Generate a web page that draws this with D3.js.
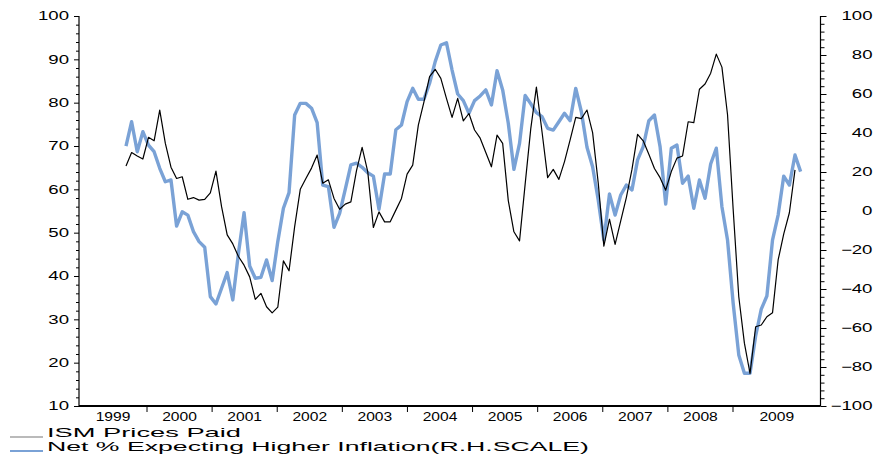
<!DOCTYPE html>
<html><head><meta charset="utf-8">
<script src="https://cdn.jsdelivr.net/npm/d3@7/dist/d3.min.js"></script>
<style>
body{margin:0;background:#fff;}
svg text{font-family:"Liberation Sans",Arial,Helvetica,sans-serif;fill:#000;}
</style>
</head><body>
<svg id="chart" width="885" height="455"></svg>
<script>
// ---- data (monthly, Sep 1999 .. Aug 2009) ----
const firstMonth = [1999, 9];
const ismPricesPaid = [
65.4,68.5,67.7,67.0,72.0,71.2,78.3,70.6,65.1,62.5,62.9,57.7,58.1,57.5,57.7,59.2,64.2,56.0,49.5,47.4,
44.5,42.5,39.8,34.6,36.0,32.9,31.5,32.8,43.5,41.2,51.4,60.0,62.5,64.9,67.9,61.4,62.2,57.9,55.4,56.6,
57.1,64.3,69.7,64.1,51.2,54.8,52.5,52.5,55.2,57.9,63.5,65.6,74.8,80.2,86.0,87.7,85.6,81.0,76.6,81.0,
75.8,77.5,73.7,71.8,68.5,65.2,72.5,70.6,57.4,50.2,48.1,61.2,74.0,83.6,73.3,62.7,64.6,62.3,66.4,71.4,
76.6,76.3,78.3,73.1,61.5,46.9,53.1,47.3,52.7,58.1,64.6,72.7,71.2,68.1,64.8,62.7,59.8,64.1,67.2,67.7,
75.6,75.4,83.1,84.3,86.8,91.2,88.2,77.2,55.4,35.2,24.5,17.5,28.3,28.7,30.6,31.5,43.7,49.7,54.6,64.5
];
const netExpectingHigherInflation = [
33.3,45.8,30.4,40.7,33.8,30.4,21.9,15.0,15.9,-7.7,-0.4,-2.1,-10.6,-15.7,-18.6,-43.9,-47.7,-39.6,-31.6,-45.6,
-21.7,-0.9,-28.2,-34.5,-34.0,-25.1,-35.7,-15.7,1.4,9.4,49.2,55.2,55.2,52.7,45.3,13.3,12.5,-8.4,-1.2,11.1,
23.6,24.5,22.4,19.6,17.9,0.9,19.0,19.0,41.7,44.1,56.1,62.9,57.3,57.3,65.5,76.6,85.1,86.3,72.3,60.0,
56.6,50.1,56.6,59.0,62.1,54.4,71.9,62.1,45.0,21.4,34.7,59.2,55.0,50.4,48.4,42.4,41.5,45.8,50.1,46.3,
62.9,50.9,32.7,22.7,5.6,-14.9,8.7,-2.1,8.2,13.3,10.8,26.2,33.0,46.3,49.2,33.0,3.6,32.2,33.8,14.2,
17.9,1.4,15.9,6.5,24.1,32.2,2.2,-14.9,-47.3,-73.8,-83.2,-83.2,-64.1,-50.3,-43.6,-14.9,-2.1,17.9,13.3,28.7,
20.2
];
const yearLabels = ["1999","2000","2001","2002","2003","2004","2005","2006","2007","2008","2009"];
const leftTicks = [10,20,30,40,50,60,70,80,90,100];
const rightTicks = [-100,-80,-60,-40,-20,0,20,40,60,80,100];
const seriesNames = ["ISM Prices Paid","Net % Expecting Higher Inflation(R.H.SCALE)"];

// ---- layout ----
const plot = {left:79, right:820.5, top:16, bottom:406};
const blue = "#7aa2d6";
const svg = d3.select("#chart");

const x = d3.scaleLinear().domain([0, 119]).range([126, 795]);
const yL = d3.scaleLinear().domain([10, 100]).range([plot.bottom, plot.top]);
const yR = d3.scaleLinear().domain([-100, 100]).range([plot.bottom, plot.top]);
// category-style year axis (boundaries between year labels)
const yearBoundary = d3.scaleLinear().domain([2000, 2009]).range([147, 733]);

function stretch(sel, factor){
  sel.each(function(){
    const w = this.getComputedTextLength();
    this.setAttribute("textLength", (w*factor).toFixed(1));
    this.setAttribute("lengthAdjust", "spacingAndGlyphs");
  });
}

// left axis
const gL = svg.append("g").attr("transform", `translate(${plot.left},0)`);
gL.call(d3.axisLeft(yL).tickValues(d3.range(10, 101, 2).filter(v => v % 10 !== 0)).tickSize(3).tickFormat(""));
gL.call(g => g.append("g").call(d3.axisLeft(yL).tickValues(leftTicks).tickSize(5).tickPadding(5)));
gL.selectAll(".domain").remove();
gL.selectAll("line").attr("stroke", "#000");
gL.selectAll("text").attr("font-size", 12).attr("fill", "#000").call(stretch, 1.55);
svg.append("line").attr("x1", plot.left).attr("x2", plot.left).attr("y1", plot.top).attr("y2", plot.bottom)
  .attr("stroke", "#000").attr("stroke-width", 1.2);

// right axis
const gR = svg.append("g").attr("transform", `translate(${plot.right},0)`);
gR.call(d3.axisRight(yR).tickValues(d3.range(-100, 101, 4).filter(v => v % 20 !== 0)).tickSize(4).tickFormat(""));
gR.call(g => g.append("g").attr("class","maj").call(d3.axisRight(yR).tickValues(rightTicks).tickSize(6).tickPadding(6)));
gR.selectAll(".domain").remove();
gR.selectAll("line").attr("stroke", "#000");
gR.selectAll(".maj text").attr("font-size", 12).attr("fill", "#000").attr("text-anchor", "end").attr("x", 52)
  .call(stretch, 1.55);
svg.append("line").attr("x1", plot.right).attr("x2", plot.right).attr("y1", plot.top).attr("y2", plot.bottom)
  .attr("stroke", "#000").attr("stroke-width", 1.2);

// bottom axis
svg.append("line").attr("x1", plot.left).attr("x2", plot.right).attr("y1", plot.bottom).attr("y2", plot.bottom)
  .attr("stroke", "#000").attr("stroke-width", 2);
const bounds = [plot.left].concat(d3.range(2000, 2010).map(yearBoundary)).concat([plot.right]);
svg.append("g").selectAll("line").data(d3.range(2000, 2010)).join("line")
  .attr("x1", d => yearBoundary(d)).attr("x2", d => yearBoundary(d))
  .attr("y1", plot.bottom).attr("y2", plot.bottom + 6).attr("stroke", "#000");
svg.append("g").selectAll("text").data(yearLabels).join("text")
  .attr("x", (d, i) => (bounds[i] + bounds[i+1]) / 2)
  .attr("y", 421).attr("text-anchor", "middle").attr("font-size", 12).text(d => d)
  .call(stretch, 1.3);

// lines
const lineL = d3.line().x((d, i) => x(i)).y(d => yL(d));
const lineR = d3.line().x((d, i) => x(i)).y(d => yR(d));
svg.append("path").datum(netExpectingHigherInflation).attr("d", lineR)
  .attr("fill", "none").attr("stroke", blue).attr("stroke-width", 3.4).attr("stroke-linejoin", "round");
svg.append("path").datum(ismPricesPaid).attr("d", lineL)
  .attr("fill", "none").attr("stroke", "#000").attr("stroke-width", 1.2).attr("stroke-linejoin", "round");

// legend
const legend = svg.append("g");
const legY = [437, 451];
const legColors = ["#777", blue];
const legWidths = [1.2, 2.2];
const legTextLen = [194, 542];
const legBase = [436.5, 450.5];
seriesNames.forEach((name, i) => {
  legend.append("line").attr("x1", 10).attr("x2", 43).attr("y1", legY[i]).attr("y2", legY[i])
    .attr("stroke", legColors[i]).attr("stroke-width", legWidths[i]);
  legend.append("text").attr("x", 47).attr("y", legBase[i]).attr("font-size", 13.5)
    .attr("textLength", legTextLen[i]).attr("lengthAdjust", "spacingAndGlyphs").text(name);
});
</script>
</body></html>
